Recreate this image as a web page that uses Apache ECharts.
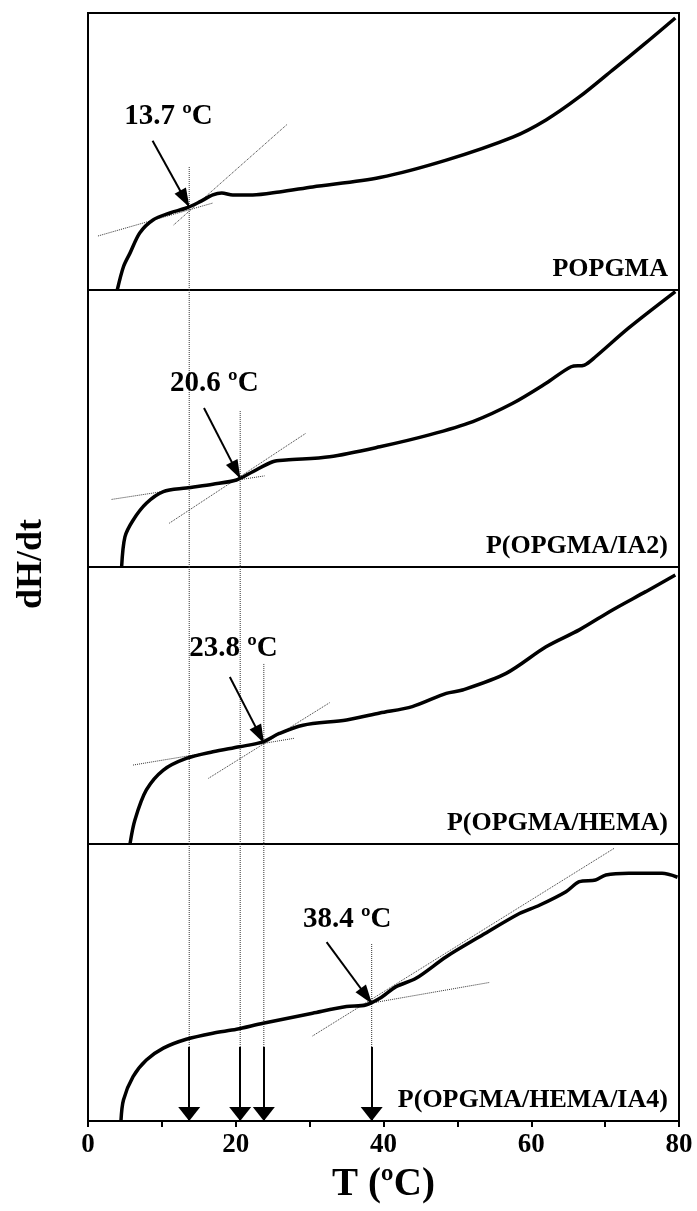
<!DOCTYPE html>
<html>
<head>
<meta charset="utf-8">
<title>dH/dt vs T</title>
<script src="https://cdn.jsdelivr.net/npm/echarts@6/dist/echarts.min.js"></script>
<style>
  html, body { margin: 0; padding: 0; background: #fff; }
  #chart { width: 697px; height: 1211px; }
</style>
</head>
<body>
<div id="chart"></div>
<script>
// Temperature axis
const tMin = 0;
const tMax = 80;
const tStep = 10;

// Sample names, one per stacked panel (top to bottom)
const panelNames = ['POPGMA', 'P(OPGMA/IA2)', 'P(OPGMA/HEMA)', 'P(OPGMA/HEMA/IA4)'];

// Glass transition temperatures (ºC)
const tgValues = [13.7, 20.6, 23.8, 38.4];

// DSC traces: [T (ºC), dH/dt (relative units, 0-100 per panel)]
const curvePOPGMA = [
  [3.96, 0], [4.8, 8.4], [5.7, 13.4], [7.0, 20.6], [8.8, 25.3], [11.1, 27.8],
  [13.3, 29.6], [15.1, 31.8], [16.9, 34.3], [18.1, 35.0], [19.6, 34.3], [22.3, 34.3],
  [25.9, 35.4], [30.4, 37.2], [39.5, 40.6], [48.5, 46.9], [57.5, 55.2], [62.0, 61.4],
  [66.5, 69.7], [71.0, 79.4], [75.5, 89.2], [79.5, 98.2]
];
const curveIA2 = [
  [4.55, 0], [5.0, 10.9], [6.1, 16.9], [7.9, 23.0], [10.2, 27.2], [13.3, 28.5],
  [16.9, 29.9], [20.1, 31.4], [22.3, 34.4], [25.0, 38.0], [26.8, 38.6], [32.7, 39.8],
  [39.5, 43.4], [46.2, 47.7], [52.1, 52.5], [57.5, 59.1], [62.0, 66.3], [65.4, 72.3],
  [67.2, 72.9], [68.7, 75.9], [73.2, 86.3], [79.5, 99.4]
];
const curveHEMA = [
  [5.7, 0.3], [6.35, 8.7], [7.9, 19.5], [10.2, 26.7], [13.3, 30.9], [16.9, 33.3],
  [20.5, 35.1], [23.7, 36.9], [25.9, 39.9], [29.1, 42.9], [35.0, 44.8], [39.5, 47.3],
  [43.9, 49.6], [48.5, 54.4], [50.7, 55.6], [56.6, 61.6], [62.0, 71.2], [66.5, 77.3],
  [71.0, 84.5], [75.5, 91.1], [79.5, 97.1]
];
const curveHEMAIA4 = [
  [4.46, 0], [4.8, 7.6], [6.1, 16.0], [7.9, 22.0], [10.2, 26.3], [13.3, 29.5],
  [16.9, 31.7], [20.1, 33.1], [23.7, 35.3], [30.4, 38.9], [35.0, 41.3], [37.6, 41.9],
  [39.5, 44.3], [41.7, 48.5], [44.4, 51.5], [48.5, 59.3], [53.0, 66.5], [58.4, 74.9],
  [61.1, 77.9], [64.7, 82.8], [66.5, 86.4], [68.7, 87.0], [70.1, 88.8], [73.2, 89.4],
  [77.7, 89.4], [79.8, 88.0]
];
const curves = [curvePOPGMA, curveIA2, curveHEMA, curveHEMAIA4];

// Tangent construction lines per panel: pairs of [T, value] end points
const tangentsPOPGMA = [[[1.35, 19.5], [16.9, 31.4]], [[11.6, 23.5], [27.0, 59.9]]];
const tangentsIA2 = [[[3.2, 24.4], [23.9, 32.9]], [[11.0, 15.8], [29.5, 48.3]]];
const tangentsHEMA = [[[6.1, 28.5], [28.0, 38.2]], [[16.3, 23.7], [32.7, 51.0]]];
const tangentsHEMAIA4 = [[[35.0, 41.0], [54.3, 50.0]], [[30.4, 30.7], [71.2, 98.4]]];
const tangents = [tangentsPOPGMA, tangentsIA2, tangentsHEMA, tangentsHEMAIA4];

// Annotation placement per panel: label centre, arrow tail, curve value at Tg
const labelAnchors = [[10.9, 62.5], [17.1, 66.4], [19.7, 70.4], [35.1, 72.6]];
const arrowTails = [[8.74, 53.9], [15.7, 57.4], [19.2, 60.3], [32.3, 64.6]];
const tgCurveValues = [30.0, 32.0, 36.5, 42.5];
// Top of each Tg drop line in its own panel, and where the bottom arrows begin
const dropStart = [44.4, 56.3, 65.0, 63.9];
const bottomArrowTop = 26.7;

const FONT = "'Liberation Serif', 'Times New Roman', serif";

const gridTop = 13;
const panelH = 277;
const grids = [];
const xAxes = [];
const yAxes = [];
const series = [];

const textBase = {
  color: '#000', fontFamily: FONT, fontWeight: 'bold',
  textBorderWidth: 0, textShadowBlur: 0, opacity: 1
};

for (let p = 0; p < 4; p++) {
  grids.push({
    left: 88, right: 18, top: gridTop + p * panelH, height: panelH,
    show: true, borderColor: '#000', borderWidth: 2, backgroundColor: 'transparent'
  });
  const isBottom = p === 3;
  xAxes.push({
    type: 'value', gridIndex: p, min: tMin, max: tMax, interval: tStep,
    axisLine: { show: isBottom, onZero: false, lineStyle: { color: '#000', width: 2 } },
    axisTick: { show: isBottom, inside: false, length: 6, lineStyle: { color: '#000', width: 2 } },
    axisLabel: {
      show: isBottom, margin: 11, color: '#000', fontFamily: FONT, fontWeight: 'bold', fontSize: 27,
      formatter: v => (v % 20 === 0 ? String(v) : '')
    },
    splitLine: { show: false },
    name: isBottom ? 'T (ºC)' : '',
    nameLocation: 'middle', nameGap: 44,
    nameTextStyle: { color: '#000', fontFamily: FONT, fontWeight: 'bold', fontSize: 39 }
  });
  yAxes.push({
    type: 'value', gridIndex: p, min: 0, max: 100,
    axisLine: { show: false }, axisTick: { show: false }, axisLabel: { show: false },
    splitLine: { show: false }
  });

  // Tangent construction lines
  tangents[p].forEach(seg => {
    series.push({
      type: 'line', xAxisIndex: p, yAxisIndex: p, data: seg, symbol: 'none', silent: true,
      lineStyle: { color: '#333', width: 1, type: 'dotted' }, z: 2
    });
  });

  // Tg drop lines passing through this panel
  for (let i = 0; i <= p; i++) {
    const from = i === p ? dropStart[i] : 100;
    const to = p === 3 ? bottomArrowTop : 0;
    series.push({
      type: 'line', xAxisIndex: p, yAxisIndex: p, symbol: 'none', silent: true,
      data: [[tgValues[i], from], [tgValues[i], to]],
      lineStyle: { color: '#333', width: 1, type: 'dotted' }, z: 2
    });
  }

  // Measured trace with the Tg arrow annotation
  const markData = [[
    { coord: arrowTails[p], symbol: 'none' },
    { coord: [tgValues[p], tgCurveValues[p]], symbol: 'triangle', symbolSize: [13, 19], symbolOffset: [0, 9] }
  ]];
  if (isBottom) {
    tgValues.forEach(tg => {
      markData.push([
        { coord: [tg, bottomArrowTop], symbol: 'none' },
        { coord: [tg, 0], symbol: 'triangle', symbolSize: [22, 14], symbolOffset: [0, 7] }
      ]);
    });
  }
  series.push({
    type: 'line', xAxisIndex: p, yAxisIndex: p, data: curves[p], symbol: 'none',
    smooth: 0.3, silent: true,
    lineStyle: { color: '#000', width: 3.5 }, z: 5,
    markLine: {
      silent: true, animation: false,
      symbol: ['none', 'triangle'],
      label: { show: false },
      lineStyle: { color: '#000', width: 2, type: 'solid' },
      itemStyle: { color: '#000' },
      data: markData
    }
  });

  // Tg value label and sample name
  series.push({
    type: 'scatter', xAxisIndex: p, yAxisIndex: p, symbolSize: 0, silent: true,
    data: [{ value: labelAnchors[p] }],
    label: Object.assign({
      show: true, position: 'inside', fontSize: 29,
      formatter: tgValues[p].toFixed(1) + ' ºC'
    }, textBase), z: 6
  });
  series.push({
    type: 'scatter', xAxisIndex: p, yAxisIndex: p, symbolSize: 0, silent: true,
    data: [{ value: [78.5, 7.5] }],
    label: Object.assign({
      show: true, position: 'inside', align: 'right', fontSize: 26,
      formatter: panelNames[p]
    }, textBase), z: 6
  });
}

const chart = echarts.init(document.getElementById('chart'), null, { renderer: 'canvas' });
chart.setOption({
  animation: false,
  backgroundColor: '#fff',
  grid: grids,
  xAxis: xAxes,
  yAxis: yAxes,
  graphic: [{
    type: 'text', left: 14, top: 519, rotation: Math.PI / 2,
    style: { text: 'dH/dt', fill: '#000', font: "bold 36px 'Liberation Serif', serif" }
  }],
  series: series
});
</script>
</body>
</html>
